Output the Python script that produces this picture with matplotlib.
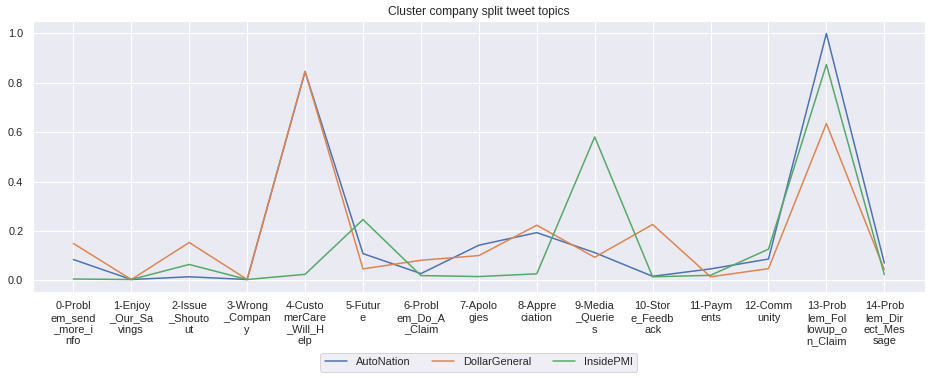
import matplotlib
matplotlib.use('Agg')
import matplotlib.pyplot as plt
import seaborn as sns

topics = ['0-Problem_send_more_info', '1-Enjoy_Our_Savings', '2-Issue_Shoutout',
          '3-Wrong_Company', '4-CustomerCare_Will_Help', '5-Future',
          '6-Problem_Do_A_Claim', '7-Apologies', '8-Appreciation', '9-Media_Queries',
          '10-Store_Feedback', '11-Payments', '12-Community',
          '13-Problem_Followup_on_Claim', '14-Problem_Direct_Message']

autonation = [0.084, 0.003, 0.014, 0.003, 0.845, 0.108, 0.027, 0.142, 0.193,
              0.112, 0.016, 0.046, 0.086, 1.0, 0.070]
dollargeneral = [0.149, 0.003, 0.153, 0.003, 0.847, 0.046, 0.081, 0.100, 0.223,
                 0.093, 0.226, 0.014, 0.047, 0.635, 0.043]
insidepmi = [0.005, 0.003, 0.064, 0.003, 0.024, 0.246, 0.019, 0.015, 0.026,
             0.581, 0.014, 0.020, 0.126, 0.874, 0.023]

sns.set_theme(style='darkgrid')
plt.rcParams['font.family'] = ['Liberation Sans', 'DejaVu Sans']


# разбиваем подписи по 7 символов
def wrap7(s):
    return '\n'.join(s[i:i + 7] for i in range(0, len(s), 7))


fig, ax = plt.subplots(figsize=(938 / 72, 378 / 72), dpi=72)
x = list(range(len(topics)))
ax.plot(x, autonation, label='AutoNation')
ax.plot(x, dollargeneral, label='DollarGeneral')
ax.plot(x, insidepmi, label='InsidePMI')

ax.set_xticks(x)
ax.set_xticklabels([wrap7(t) for t in topics])
ax.set_title('Cluster company split tweet topics')
ax.legend(loc='upper center', bbox_to_anchor=(0.5, -0.205), ncol=3)

plt.subplots_adjust(left=0.035, right=0.986, top=0.944, bottom=0.228)
plt.savefig('out.png', dpi=72)
plt.close()
